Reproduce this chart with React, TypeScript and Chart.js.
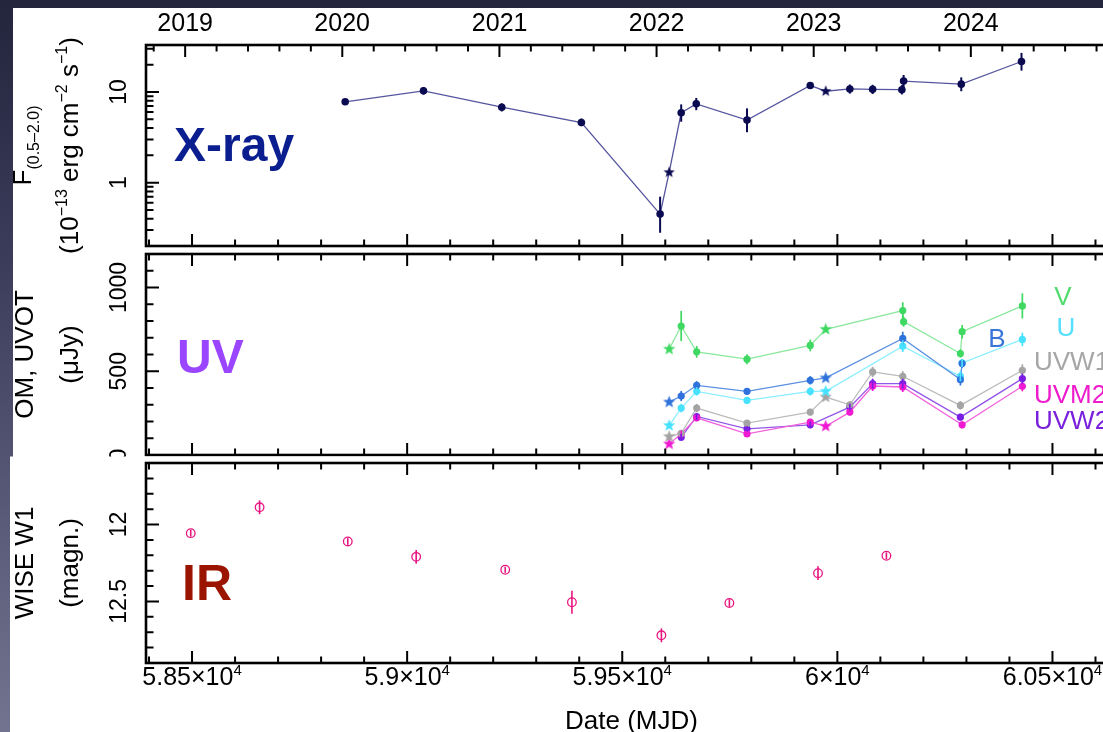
import React, { useEffect, useRef } from "react";
import { Chart, registerables } from "chart.js";
Chart.register(...registerables);

const W = 1140;
const H = 732;
const PLOT_LEFT = 146;
const PLOT_RIGHT = 1117;
const FONT = '"Liberation Sans", Arial, Helvetica, sans-serif';

// ---------- shared x axis (MJD) ----------
const mjdMin = 58393;
const mjdMax = 60650;
const xMajorTicks = [58500, 59000, 59500, 60000, 60500];
const xTickLabels = ["5.85×10^4", "5.9×10^4", "5.95×10^4", "6×10^4", "6.05×10^4"];
const yearTickMjd = [58484, 58849, 59215, 59580, 59945, 60310];
const yearTickLabels = ["2019", "2020", "2021", "2022", "2023", "2024"];
const swiftEpochs = [59609, 59973];

// ---------- X-ray ----------
const xrayMjd = [58856, 59038, 59220, 59405, 59588, 59609, 59637, 59672, 59790, 59937, 59973, 60029, 60082, 60150, 60154, 60288, 60428];
const xrayFlux = [7.8, 10.3, 6.8, 4.6, 0.45, 1.3, 5.9, 7.4, 4.9, 11.8, 10.2, 10.8, 10.7, 10.6, 13.2, 12.2, 21.7];
const xrayLo = [7.2, 9.4, 6.1, 4.2, 0.28, 1.3, 4.7, 6.3, 3.6, 11.0, 10.2, 9.6, 9.5, 9.4, 11.2, 10.2, 17.2];
const xrayHi = [8.4, 11.3, 7.5, 5.1, 0.7, 1.3, 7.3, 8.6, 6.6, 12.7, 10.2, 12.1, 12.0, 11.9, 15.4, 14.5, 27.0];
const xrayMajorY = [1, 10];
const xrayYLabels = ["1", "10"];

// ---------- UV (OM, UVOT) ----------
const vMjd = [59609, 59637, 59673, 59790, 59937, 59973, 60152, 60154, 60286, 60290, 60430];
const vFlux = [632, 770, 616, 572, 654, 750, 862, 796, 606, 736, 890];
const vErr = [10, 90, 35, 30, 35, 10, 50, 30, 25, 40, 75];

const bMjd = [59609, 59637, 59673, 59790, 59937, 59973, 60152, 60286, 60290];
const bFlux = [316, 352, 416, 380, 446, 460, 696, 450, 546];
const bErr = [10, 30, 25, 20, 25, 10, 40, 35, 25];

const uMjd = [59609, 59637, 59673, 59790, 59937, 59973, 60152, 60286, 60290, 60430];
const uFlux = [176, 280, 380, 326, 380, 380, 650, 470, 550, 690];
const uErr = [10, 25, 25, 20, 25, 10, 35, 30, 25, 40];

const w1Mjd = [59609, 59637, 59673, 59790, 59937, 59973, 60029, 60082, 60152, 60286, 60430];
const w1Flux = [110, 130, 280, 190, 256, 346, 300, 496, 470, 296, 506];
const w1Err = [10, 20, 25, 15, 20, 10, 20, 30, 30, 25, 35];

const m2Mjd = [59609, 59637, 59673, 59790, 59937, 59973, 60029, 60082, 60152, 60290, 60430];
const m2Flux = [66, 126, 222, 126, 196, 172, 256, 412, 406, 180, 410];
const m2Err = [10, 20, 20, 15, 20, 10, 20, 30, 30, 20, 30];

const w2Mjd = [59637, 59673, 59790, 59937, 60029, 60082, 60152, 60286, 60430];
const w2Flux = [106, 230, 156, 180, 286, 426, 426, 226, 456];
const w2Err = [20, 20, 15, 20, 20, 30, 30, 20, 30];

const uvMajorY = [0, 500, 1000];
const uvYLabels = ["0", "500", "1000"];

// ---------- IR (WISE W1) ----------
const irMjd = [58497, 58657, 58862, 59021, 59228, 59383, 59591, 59749, 59955, 60114];
const irMag = [12.056, 11.888, 12.11, 12.21, 12.294, 12.505, 12.72, 12.51, 12.316, 12.203];
const irErr = [0.022, 0.045, 0.022, 0.045, 0.02, 0.075, 0.045, 0.025, 0.045, 0.022];
const irMajorY = [12, 12.5];
const irYLabels = ["12", "12.5"];

// ---------- helpers ----------
type Seg = { t: string; k?: "sub" | "sup" };

function makeStar(color: string, r: number) {
  const c = document.createElement("canvas");
  const s = Math.ceil(r * 2 + 2);
  c.width = s;
  c.height = s;
  const g = c.getContext("2d")!;
  g.fillStyle = color;
  g.beginPath();
  for (let i = 0; i < 10; i++) {
    const ang = -Math.PI / 2 + (i * Math.PI) / 5;
    const rr = i % 2 === 0 ? r : r * 0.42;
    g.lineTo(s / 2 + rr * Math.cos(ang), s / 2 + rr * Math.sin(ang));
  }
  g.closePath();
  g.fill();
  return c;
}

function segWidth(ctx: CanvasRenderingContext2D, s: Seg, size: number) {
  ctx.font = `${s.k ? Math.round(size * 0.6) : size}px ${FONT}`;
  return ctx.measureText(s.t).width;
}

function drawRich(ctx: CanvasRenderingContext2D, segs: Seg[], x: number, y: number, size: number, rotated: boolean, color = "#000") {
  ctx.save();
  ctx.translate(x, y);
  if (rotated) ctx.rotate(-Math.PI / 2);
  ctx.fillStyle = color;
  ctx.textAlign = "left";
  ctx.textBaseline = "alphabetic";
  const total = segs.reduce((a, s) => a + segWidth(ctx, s, size), 0);
  let u = -total / 2;
  for (const s of segs) {
    const w = segWidth(ctx, s, size);
    const v = s.k === "sub" ? size * 0.3 : s.k === "sup" ? -size * 0.42 : 0;
    ctx.fillText(s.t, u, v);
    u += w;
  }
  ctx.restore();
}

function rotLabel(ctx: CanvasRenderingContext2D, t: string, cx: number, cy: number, size: number) {
  ctx.save();
  ctx.translate(cx, cy);
  ctx.rotate(-Math.PI / 2);
  ctx.font = `${size}px ${FONT}`;
  ctx.fillStyle = "#000";
  ctx.textAlign = "center";
  ctx.textBaseline = "middle";
  ctx.fillText(t, 0, 0);
  ctx.restore();
}

const errorBars = {
  id: "errorBars",
  afterDatasetsDraw(chart: any) {
    const { ctx, chartArea: a, scales } = chart;
    const x = scales.x;
    const y = scales.y;
    ctx.save();
    ctx.beginPath();
    ctx.rect(a.left, a.top, a.right - a.left, a.bottom - a.top);
    ctx.clip();
    chart.data.datasets.forEach((ds: any) => {
      if (!ds.errLo) return;
      ctx.strokeStyle = ds.errColor;
      ctx.lineWidth = ds.errWidth || 1.8;
      ds.data.forEach((p: any, i: number) => {
        const px = x.getPixelForValue(p.x);
        ctx.beginPath();
        ctx.moveTo(px, y.getPixelForValue(ds.errLo[i]));
        ctx.lineTo(px, y.getPixelForValue(ds.errHi[i]));
        ctx.stroke();
      });
    });
    ctx.restore();
  },
};

type PanelCfg = {
  yMajor: number[];
  yMinor: number[];
  yLabels: string[];
  topYears: boolean;
  bottomLabels: boolean;
  extra: (ctx: CanvasRenderingContext2D, chart: any) => void;
  cover?: boolean;
};

const XMAJ = 12;
const XMIN = 6.5;
const YMAJ = 13;
const YMIN = 7.5;

function panelPlugin(cfg: PanelCfg) {
  return {
    id: "panel",
    beforeDraw(chart: any) {
      if (!cfg.cover) return;
      const ctx = chart.ctx;
      ctx.save();
      ctx.fillStyle = "#fff";
      ctx.fillRect(10, 456.5, W, H);
      ctx.restore();
    },
    afterDraw(chart: any) {
      const { ctx, chartArea: a, scales } = chart;
      const x = scales.x;
      const y = scales.y;
      ctx.save();
      ctx.strokeStyle = "#000";
      ctx.lineWidth = 2;
      ctx.beginPath();
      // MJD ticks
      for (let m = 58400; m <= 60600; m += 100) {
        const px = x.getPixelForValue(m);
        const len = m % 500 === 0 ? XMAJ : XMIN;
        ctx.moveTo(px, a.bottom);
        ctx.lineTo(px, a.bottom - len);
        if (!cfg.topYears) {
          ctx.moveTo(px, a.top);
          ctx.lineTo(px, a.top + len);
        }
      }
      if (cfg.topYears) {
        for (let yr = 2018; yr <= 2025; yr++) {
          for (let k = 0; k < 5; k++) {
            const m = yearTickMjd[0] + (yr - 2019 + k * 0.2) * 365.25;
            if (m < mjdMin || m > mjdMax) continue;
            const px = x.getPixelForValue(m);
            const len = k === 0 ? XMAJ : XMIN;
            ctx.moveTo(px, a.top);
            ctx.lineTo(px, a.top + len);
          }
        }
      }
      // y ticks
      const yt = (v: number, len: number) => {
        const py = y.getPixelForValue(v);
        ctx.moveTo(a.left, py);
        ctx.lineTo(a.left + len, py);
        ctx.moveTo(a.right, py);
        ctx.lineTo(a.right - len, py);
      };
      cfg.yMajor.forEach((v) => yt(v, YMAJ));
      cfg.yMinor.forEach((v) => yt(v, YMIN));
      ctx.stroke();
      // frame
      ctx.lineWidth = 2.6;
      ctx.strokeRect(a.left, a.top, a.right - a.left, a.bottom - a.top);

      // y tick labels
      cfg.yMajor.forEach((v, i) => rotLabel(ctx, cfg.yLabels[i], a.left - 26, y.getPixelForValue(v), 23));

      // year labels
      if (cfg.topYears) {
        ctx.font = `25px ${FONT}`;
        ctx.fillStyle = "#000";
        ctx.textAlign = "center";
        ctx.textBaseline = "alphabetic";
        yearTickMjd.forEach((m, i) => ctx.fillText(yearTickLabels[i], x.getPixelForValue(m), 31));
      }
      if (cfg.bottomLabels) {
        xMajorTicks.forEach((m, i) => {
          const [base, ex] = xTickLabels[i].split("^");
          drawRich(ctx, [{ t: base }, { t: ex, k: "sup" }], x.getPixelForValue(m), 685, 25, false);
        });
        ctx.font = `26px ${FONT}`;
        ctx.fillStyle = "#000";
        ctx.textAlign = "center";
        ctx.textBaseline = "alphabetic";
        ctx.fillText("Date (MJD)", (a.left + a.right) / 2, 729);
      }
      cfg.extra(ctx, chart);
      ctx.restore();
    },
  };
}

function baseConfig(datasets: any[], top: number, bottom: number, yScale: any, cfg: PanelCfg) {
  return {
    type: "scatter",
    data: { datasets },
    options: {
      animation: false,
      responsive: false,
      events: [],
      layout: { padding: { left: PLOT_LEFT, right: W - PLOT_RIGHT, top, bottom: H - bottom } },
      plugins: { legend: { display: false }, tooltip: { enabled: false } },
      scales: {
        x: { type: "linear", min: mjdMin, max: mjdMax, display: false },
        y: { ...yScale, display: false },
      },
    },
    plugins: [errorBars, panelPlugin(cfg)],
  } as any;
}

function uvSeries(xs: number[], ys: number[], err: number[], color: string, lineColor: string) {
  const star = makeStar(color, 6.5);
  return {
    data: xs.map((x, i) => ({ x, y: ys[i] })),
    errLo: ys.map((v, i) => v - err[i]),
    errHi: ys.map((v, i) => v + err[i]),
    errColor: color,
    errWidth: 1.7,
    showLine: true,
    borderColor: lineColor,
    borderWidth: 1.3,
    pointStyle: (c: any) => (swiftEpochs.includes(xs[c.dataIndex]) ? star : "circle"),
    pointRadius: 3.6,
    pointBackgroundColor: color,
    pointBorderColor: color,
    pointBorderWidth: 0,
  };
}

function xrayConfig() {
  const navy = "#0b0b52";
  const star = makeStar(navy, 6);
  const minor: number[] = [];
  [0.1, 1, 10].forEach((d) => {
    for (let k = 2; k <= 9; k++) if (k * d >= 0.2 && k * d <= 33) minor.push(k * d);
  });
  const ds = {
    data: xrayMjd.map((x, i) => ({ x, y: xrayFlux[i] })),
    errLo: xrayLo,
    errHi: xrayHi,
    errColor: navy,
    errWidth: 2,
    showLine: true,
    borderColor: "#55559f",
    borderWidth: 1.3,
    pointStyle: (c: any) => (swiftEpochs.includes(xrayMjd[c.dataIndex]) ? star : "circle"),
    pointRadius: 3.8,
    pointBackgroundColor: navy,
    pointBorderColor: navy,
    pointBorderWidth: 0,
  };
  return baseConfig([ds], 45, 246, { type: "logarithmic", min: 0.2, max: 33 }, {
    yMajor: xrayMajorY,
    yMinor: minor,
    yLabels: xrayYLabels,
    topYears: true,
    bottomLabels: false,
    extra: (ctx, chart) => {
      const a = chart.chartArea;
      const cy = (a.top + a.bottom) / 2;
      drawRich(ctx, [{ t: "F" }, { t: "(0.5–2.0)", k: "sub" }], 31, cy, 26, true);
      drawRich(
        ctx,
        [{ t: "(10" }, { t: "−13", k: "sup" }, { t: " erg cm" }, { t: "−2", k: "sup" }, { t: " s" }, { t: "−1", k: "sup" }, { t: ")" }],
        78,
        cy,
        26,
        true
      );
      ctx.font = `bold 48px ${FONT}`;
      ctx.fillStyle = "#0a1e8f";
      ctx.textAlign = "left";
      ctx.textBaseline = "alphabetic";
      ctx.fillText("X-ray", 174, 161);
    },
  });
}

function uvConfig() {
  const minor: number[] = [];
  for (let v = 100; v <= 1200; v += 100) if (v % 500 !== 0) minor.push(v);
  const datasets = [
    uvSeries(vMjd, vFlux, vErr, "#3fd862", "#8be89d"),
    uvSeries(bMjd, bFlux, bErr, "#2f72dc", "#5b8fe2"),
    uvSeries(uMjd, uFlux, uErr, "#48e2ff", "#8aeeff"),
    uvSeries(w1Mjd, w1Flux, w1Err, "#a4a4a4", "#bcbcbc"),
    uvSeries(m2Mjd, m2Flux, m2Err, "#f01ad2", "#f262dc"),
    uvSeries(w2Mjd, w2Flux, w2Err, "#7a1ee6", "#9356e8"),
  ];
  return baseConfig(datasets, 254, 455, { type: "linear", min: 0, max: 1200 }, {
    yMajor: uvMajorY,
    yMinor: minor,
    yLabels: uvYLabels,
    topYears: false,
    bottomLabels: false,
    extra: (ctx, chart) => {
      const a = chart.chartArea;
      const cy = (a.top + a.bottom) / 2;
      drawRich(ctx, [{ t: "OM, UVOT" }], 33, cy, 26, true);
      drawRich(ctx, [{ t: "(μJy)" }], 78, cy, 26, true);
      ctx.font = `bold 48px ${FONT}`;
      ctx.fillStyle = "#9a45ff";
      ctx.textAlign = "left";
      ctx.textBaseline = "alphabetic";
      ctx.fillText("UV", 177, 373);
      ctx.font = `26px ${FONT}`;
      ctx.textBaseline = "middle";
      ctx.textAlign = "center";
      ctx.fillStyle = "#4fdc6c";
      ctx.fillText("V", 1063, 298);
      ctx.fillStyle = "#55e0ff";
      ctx.fillText("U", 1066, 329);
      ctx.fillStyle = "#3a76da";
      ctx.fillText("B", 997, 340);
      ctx.textAlign = "left";
      ctx.fillStyle = "#a6a6a6";
      ctx.fillText("UVW1", 1034, 363);
      ctx.fillStyle = "#ee1ccc";
      ctx.fillText("UVM2", 1034, 396);
      ctx.fillStyle = "#7a20dd";
      ctx.fillText("UVW2", 1034, 422);
    },
  });
}

function irConfig() {
  const pink = "#e8157f";
  const minor: number[] = [];
  for (let k = 117; k <= 129; k++) {
    const v = k / 10;
    if (k !== 120 && k !== 125) minor.push(v);
  }
  const ds = {
    data: irMjd.map((x, i) => ({ x, y: irMag[i] })),
    errLo: irMag.map((v, i) => v - irErr[i]),
    errHi: irMag.map((v, i) => v + irErr[i]),
    errColor: pink,
    errWidth: 1.6,
    showLine: false,
    pointStyle: "circle",
    pointRadius: 4.3,
    pointBackgroundColor: "rgba(0,0,0,0)",
    pointBorderColor: pink,
    pointBorderWidth: 1.3,
  };
  return baseConfig([ds], 463, 663, { type: "linear", min: 11.6, max: 12.9, reverse: true }, {
    yMajor: irMajorY,
    yMinor: minor,
    yLabels: irYLabels,
    topYears: false,
    bottomLabels: true,
    cover: true,
    extra: (ctx, chart) => {
      const a = chart.chartArea;
      const cy = (a.top + a.bottom) / 2;
      drawRich(ctx, [{ t: "WISE W1" }], 33, cy, 26, true);
      drawRich(ctx, [{ t: "(magn.)" }], 78, cy, 26, true);
      ctx.font = `bold 50px ${FONT}`;
      ctx.fillStyle = "#9a1400";
      ctx.textAlign = "left";
      ctx.textBaseline = "alphabetic";
      ctx.fillText("IR", 182, 600);
    },
  });
}

export default function App() {
  const r1 = useRef<HTMLCanvasElement>(null);
  const r2 = useRef<HTMLCanvasElement>(null);
  const r3 = useRef<HTMLCanvasElement>(null);
  useEffect(() => {
    const charts = [
      new Chart(r1.current!, xrayConfig()),
      new Chart(r2.current!, uvConfig()),
      new Chart(r3.current!, irConfig()),
    ];
    return () => charts.forEach((c) => c.destroy());
  }, []);
  const cs: React.CSSProperties = { position: "absolute", left: 0, top: 0, width: W, height: H };
  return (
    <div
      style={{
        position: "absolute",
        left: 0,
        top: 0,
        width: 1103,
        height: 732,
        overflow: "hidden",
        background: "linear-gradient(180deg, #23253d 0%, #3a3c5a 35%, #5c5e7b 75%, #72748f 100%)",
      }}
    >
      <div style={{ position: "absolute", left: 13, top: 8, right: 0, bottom: 0, background: "#fff" }} />
      <canvas ref={r1} width={W} height={H} style={cs} />
      <canvas ref={r2} width={W} height={H} style={cs} />
      <canvas ref={r3} width={W} height={H} style={cs} />
    </div>
  );
}
